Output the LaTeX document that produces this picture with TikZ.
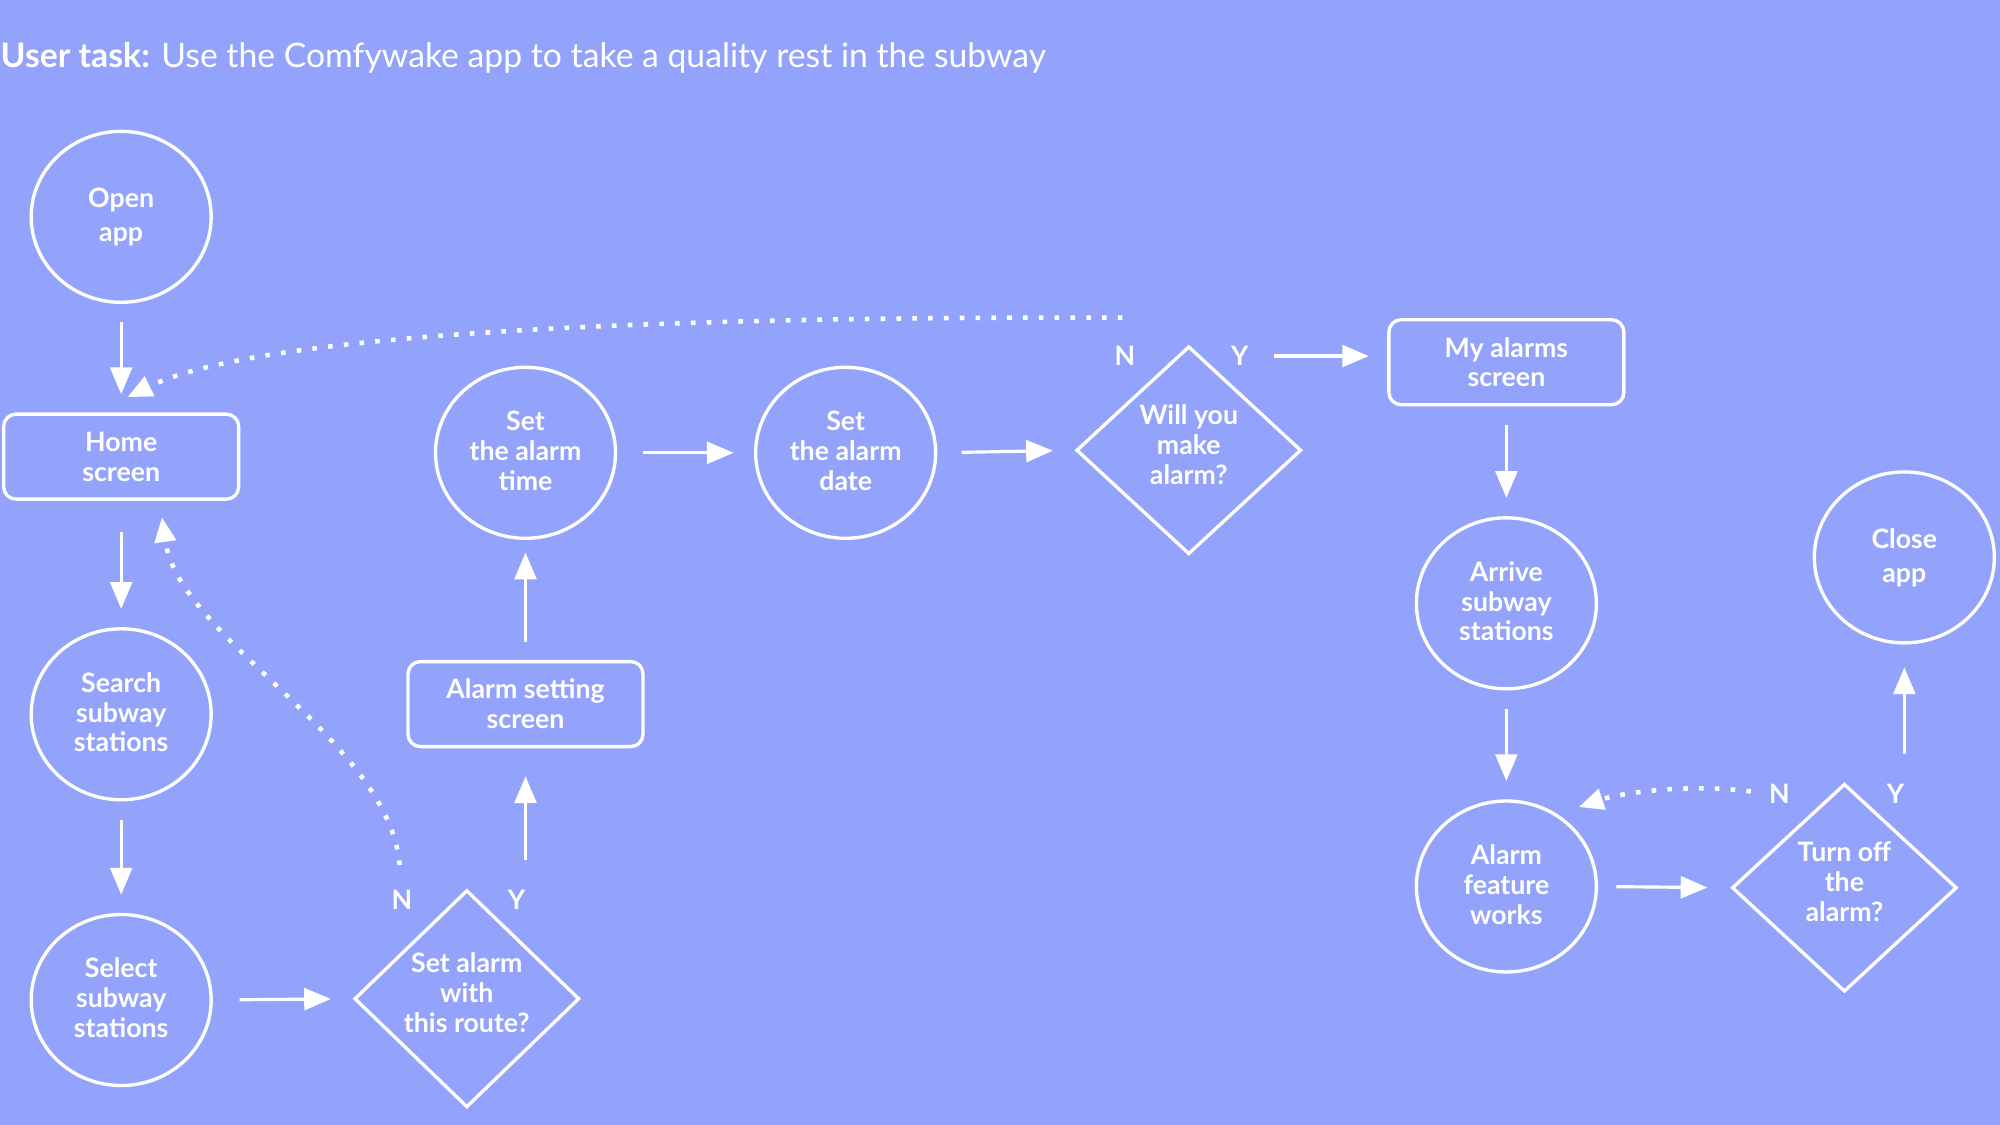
\documentclass[tikz,border=0pt]{standalone}
\usepackage{fontspec}
\setmainfont{Lato}
\usepackage{tikz}
\usetikzlibrary{shapes.geometric}
\usetikzlibrary{arrows.meta}
\usetikzlibrary{calc}
\definecolor{flow-bg}{HTML}{93A3FB}

\tikzset{
    flowtext/.style={text=white, align=center, font=\fontsize{7.6}{8.5}\selectfont\bfseries},
    ovalnode/.style={flowtext, ellipse, draw=white, line width=0.95pt, text depth=1.2pt,
        minimum width=1.8cm, minimum height=1.71cm, inner sep=0pt},
    appnode/.style={ovalnode, font=\fontsize{7.6}{9.6}\selectfont\bfseries},
    screennode/.style={flowtext, rectangle, rounded corners=3.5pt, draw=white, line width=0.95pt,
        minimum width=2.35cm, minimum height=0.85cm, inner sep=0pt},
    decisionnode/.style={flowtext, diamond, draw=white, line width=0.95pt, text depth=3.4pt,
        minimum width=2.25cm, minimum height=2.08cm, inner sep=0pt},
    answer/.style={text=white, font=\fontsize{7.6}{8.5}\selectfont\bfseries, inner sep=0pt},
    arr/.style={draw=white, line width=0.9pt, shorten <=5.2pt, shorten >=5.2pt,
        -{Triangle[length=7.6pt, width=6.2pt]}},
    dotarr/.style={draw=white, line width=1.3pt, dash pattern=on 1.3pt off 3.2pt,
        -{Triangle[length=7pt, width=6pt]}},
}

\begin{document}
\begin{tikzpicture}[x=0.012755cm, y=-0.012755cm]

% Background
\fill[flow-bg] (0,0) rectangle (1568,882);
\useasboundingbox (0,0) rectangle (1568,882);

% Title
\node[anchor=base west, inner sep=0pt, text=white, font=\fontsize{9.6}{11}\selectfont] (title) at (0,53)
    {\textbf{User task:} Use the Comfywake app to take a quality rest in the subway};

% Left column
\node[appnode] (openapp) at (95,170) {Open\\app};
\node[screennode] (home) at (95,358) {Home\\screen};
\node[ovalnode] (search) at (95,560) {Search\\subway\\stations};
\node[ovalnode] (select) at (95,784) {Select\\subway\\stations};

% Alarm setting
\node[decisionnode] (setroute) at (366,783) {Set alarm\\with\\this route?};
\node[screennode] (alarmscreen) at (412,552) {Alarm setting\\screen};
\node[ovalnode] (settime) at (412,355) {Set\\the alarm\\time};
\node[ovalnode] (setdate) at (663,355) {Set\\the alarm\\date};
\node[decisionnode] (makealarm) at (932,353) {Will you\\make\\alarm?};

% Right part
\node[screennode] (myalarms) at (1181,284) {My alarms\\screen};
\node[ovalnode] (arrive) at (1181,473) {Arrive\\subway\\stations};
\node[ovalnode] (alarmworks) at (1181,695) {Alarm\\feature\\works};
\node[decisionnode] (turnoff) at (1446,696) {Turn off\\the\\alarm?};
\node[appnode] (closeapp) at (1493,437) {Close\\app};

% Answers
\node[answer] (routen) at ($(setroute.north)+(-51,9)$) {N};
\node[answer] (routey) at ($(setroute.north)+(39,9)$) {Y};
\node[answer] (alarmn) at ($(makealarm.north)+(-50,9)$) {N};
\node[answer] (alarmy) at ($(makealarm.north)+(40,9)$) {Y};
\node[answer] (turnn) at ($(turnoff.north)+(-51,9)$) {N};
\node[answer] (turny) at ($(turnoff.north)+(40,9)$) {Y};

% Solid arrows
\draw[arr] (openapp.south) -- (home.north);
\draw[arr, shorten <=9pt] (home.south) -- (search.north);
\draw[arr] (search.south) -- (select.north);
\draw[arr, shorten <=7.6pt, shorten >=6.2pt] (select.east) -- (setroute.west);
\draw[arr, shorten <=8pt, shorten >=8pt] (alarmscreen.south |- setroute.north) -- (alarmscreen.south);
\draw[arr, shorten >=3.6pt] (alarmscreen.north) -- (settime.south);
\draw[arr, shorten <=7.3pt, shorten >=5.8pt] (settime.east) -- (setdate.west);
\draw[arr, shorten <=6.9pt, shorten >=6.2pt] (setdate.east) -- (makealarm.west);
\draw[arr, shorten <=7pt] (alarmy.east) -- (alarmy.east -| myalarms.west);
\draw[arr] (myalarms.south) -- (arrive.north);
\draw[arr] (arrive.south) -- (alarmworks.north);
\draw[arr, shorten >=6.5pt] (alarmworks.east) -- (turnoff.west);
\draw[arr, shorten <=8pt, shorten >=6.5pt] (closeapp.south |- turnoff.north) -- (closeapp.south);

% Dotted arrows
\coordinate (alarmnstart) at ($(alarmn.north)+(-2,-22)$);
\coordinate (homein) at ($(home.north)+(5,-12)$);
\coordinate (homeback) at ($(home.south)+(32,13)$);
\coordinate (worksin) at ($(alarmworks.north east)+(6,-14)$);
\draw[dotarr] (alarmnstart) .. controls (500,248) and (200,262) .. (homein);
\draw[dotarr, shorten <=7pt] (routen.north) .. controls (305,580) and (140,500) .. (homeback);
\draw[dotarr, shorten <=5pt] (turnn.west) .. controls (1320,614) and (1270,622) .. (worksin);

\end{tikzpicture}
\end{document}
